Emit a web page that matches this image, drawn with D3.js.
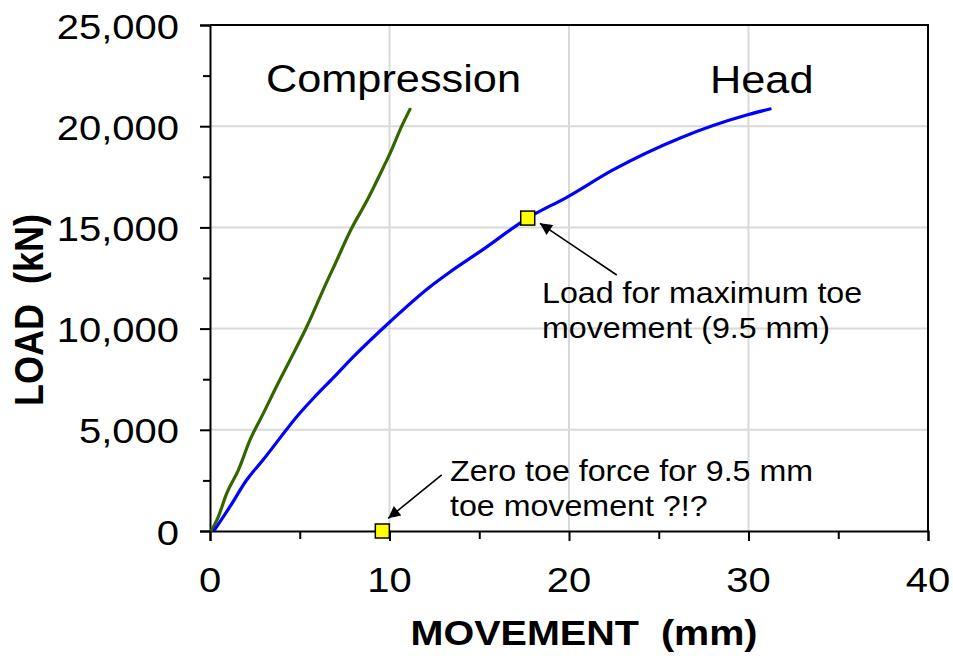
<!DOCTYPE html>
<html>
<head>
<meta charset="utf-8">
<script src="https://cdn.jsdelivr.net/npm/d3@7"></script>
<style>
  body { margin: 0; background: #fff; }
  text { font-family: Arial, "Liberation Sans", sans-serif; fill: #000; white-space: pre; }
</style>
</head>
<body>
<svg id="chart" width="953" height="656"></svg>
<script>
// movement (mm) / load (kN)
var compressionX = [0.1, 0.46, 0.93, 1.58, 2.23, 2.97, 3.34, 3.71, 4.46, 5.39, 6.5, 6.87, 7.8, 8.82, 9.65, 10.03, 10.68, 11.14];
var compressionY = [50, 700, 1860, 3010, 4500, 5810, 6480, 7150, 8450, 10090, 12300, 13000, 14800, 16450, 17950, 18660, 20000, 20835];

var headX = [0.25, 1.11, 2.04, 2.95, 5.01, 5.76, 6.85, 7.98, 10.03, 12.26, 13.37, 15.2, 17.7, 19.9, 22.45, 26.2, 29.9, 31.2];
var headY = [50, 1200, 2520, 3508, 5830, 6560, 7550, 8600, 10340, 12070, 12800, 13900, 15460, 16500, 17840, 19420, 20550, 20850];

// yellow markers: toe point and head load for max toe movement
var markerX = [9.6, 17.7];
var markerY = [0, 15460];

var xTicks = [0, 10, 20, 30, 40];
var xMinor = [5, 15, 25, 35];
var yTicks = [0, 5000, 10000, 15000, 20000, 25000];
var yMinor = [2500, 7500, 12500, 17500, 22500];

var seriesNames = ["Compression", "Head"];
var noteLoad = ["Load for maximum toe", "movement (9.5 mm)"];
var noteZero = ["Zero toe force for 9.5 mm", "toe movement ?!?"];

var svg = d3.select("#chart");
var sx = 1.11;  // the source text is a little wider than Arial

var x = d3.scaleLinear().domain([0, 40]).range([210, 928]);
var y = d3.scaleLinear().domain([0, 25000]).range([531, 25]);

svg.append("rect").attr("width", 953).attr("height", 656).attr("fill", "#fff");

// grid
svg.append("g").selectAll("line").data(xTicks.slice(1, -1)).join("line")
    .attr("x1", d => x(d)).attr("x2", d => x(d))
    .attr("y1", y(0)).attr("y2", y(25000))
    .attr("stroke", "#d9d9d9").attr("stroke-width", 2);
svg.append("g").selectAll("line").data(yTicks.slice(1, -1)).join("line")
    .attr("x1", x(0)).attr("x2", x(40))
    .attr("y1", d => y(d)).attr("y2", d => y(d))
    .attr("stroke", "#d9d9d9").attr("stroke-width", 2);

// frame: top and right
svg.append("path")
    .attr("d", "M" + x(0) + "," + y(25000) + "H" + x(40) + "V" + y(0))
    .attr("fill", "none").attr("stroke", "#000").attr("stroke-width", 2);

// axes
var xAxis = svg.append("g").attr("transform", "translate(0," + y(0) + ")")
    .call(d3.axisBottom(x).tickValues(xTicks).tickSize(10).tickFormat(""));
var xAxisMinor = svg.append("g").attr("transform", "translate(0," + y(0) + ")")
    .call(d3.axisBottom(x).tickValues(xMinor).tickSize(8).tickFormat(""));
var yAxis = svg.append("g").attr("transform", "translate(" + x(0) + ",0)")
    .call(d3.axisLeft(y).tickValues(yTicks).tickSize(10).tickFormat(""));
var yAxisMinor = svg.append("g").attr("transform", "translate(" + x(0) + ",0)")
    .call(d3.axisLeft(y).tickValues(yMinor).tickSize(7).tickFormat(""));

[xAxis, xAxisMinor, yAxis, yAxisMinor].forEach(function (g) {
    g.selectAll("path").attr("stroke", "#000").attr("stroke-width", 2);
    g.selectAll("line").attr("stroke", "#000").attr("stroke-width", 2);
});
xAxisMinor.select("path").remove();
yAxisMinor.select("path").remove();

// tick labels
svg.append("g").selectAll("text").data(yTicks).join("text")
    .attr("transform", d => "translate(179," + (y(d) + 13.5) + ") scale(" + sx + ",1)")
    .attr("text-anchor", "end")
    .style("font-size", "36px")
    .text(d3.format(","));
svg.append("g").selectAll("text").data(xTicks).join("text")
    .attr("transform", d => "translate(" + x(d) + ",592) scale(" + sx + ",1)")
    .attr("text-anchor", "middle")
    .style("font-size", "36px")
    .text(d => d);

// axis titles
svg.append("text")
    .attr("transform", "translate(584,645) scale(1.13,1)")
    .attr("text-anchor", "middle")
    .style("font-size", "35px").style("font-weight", "700")
    .text("MOVEMENT  (mm)");
svg.append("text")
    .attr("transform", "translate(43,310) scale(" + sx + ",1) rotate(-90)")
    .attr("text-anchor", "middle")
    .style("font-size", "36px").style("font-weight", "700")
    .text("LOAD  (kN)");

// curves
var line = d3.line().x(d => x(d[0])).y(d => y(d[1])).curve(d3.curveMonotoneX);
svg.append("path")
    .datum(compressionX.map((v, i) => [v, compressionY[i]]))
    .attr("d", line)
    .attr("fill", "none").attr("stroke", "#336600").attr("stroke-width", 3.2)
    .attr("stroke-linejoin", "round").attr("stroke-linecap", "round");
svg.append("path")
    .datum(headX.map((v, i) => [v, headY[i]]))
    .attr("d", line)
    .attr("fill", "none").attr("stroke", "#0000ff").attr("stroke-width", 3.2)
    .attr("stroke-linejoin", "round").attr("stroke-linecap", "round");

// series labels
svg.append("text")
    .attr("transform", "translate(266,92) scale(" + sx + ",1)")
    .style("font-size", "39px")
    .text(seriesNames[0]);
svg.append("text")
    .attr("transform", "translate(710,93) scale(" + sx + ",1)")
    .style("font-size", "39px")
    .text(seriesNames[1]);

// arrows (data coords: from text to marker)
svg.append("defs").append("marker")
    .attr("id", "head").attr("viewBox", "0 0 10 10")
    .attr("refX", 10).attr("refY", 5)
    .attr("markerWidth", 16).attr("markerHeight", 12)
    .attr("markerUnits", "userSpaceOnUse")
    .attr("orient", "auto")
    .append("path").attr("d", "M0,0L10,5L0,10Z").attr("fill", "#000");

var arrows = [
    { from: [12.91, 2767], to: [9.93, 627] },
    { from: [22.66, 12650], to: [18.38, 15200] }
];
svg.append("g").selectAll("line").data(arrows).join("line")
    .attr("x1", d => x(d.from[0])).attr("y1", d => y(d.from[1]))
    .attr("x2", d => x(d.to[0])).attr("y2", d => y(d.to[1]))
    .attr("stroke", "#000").attr("stroke-width", 1.6)
    .attr("marker-end", "url(#head)");

// markers
svg.append("g").selectAll("rect").data(markerX).join("rect")
    .attr("x", (d, i) => x(d) - 7).attr("y", (d, i) => y(markerY[i]) - 7)
    .attr("width", 14).attr("height", 14)
    .attr("fill", "#ffff00").attr("stroke", "#000").attr("stroke-width", 1.5);

// notes
function note(lines, x0, baselines) {
    svg.append("g").selectAll("text").data(lines).join("text")
        .attr("transform", (d, i) => "translate(" + x0 + "," + baselines[i] + ") scale(" + sx + ",1)")
        .style("font-size", "29px")
        .text(d => d);
}
note(noteLoad, 542, [303, 338]);
note(noteZero, 450, [481, 516]);
</script>
</body>
</html>
